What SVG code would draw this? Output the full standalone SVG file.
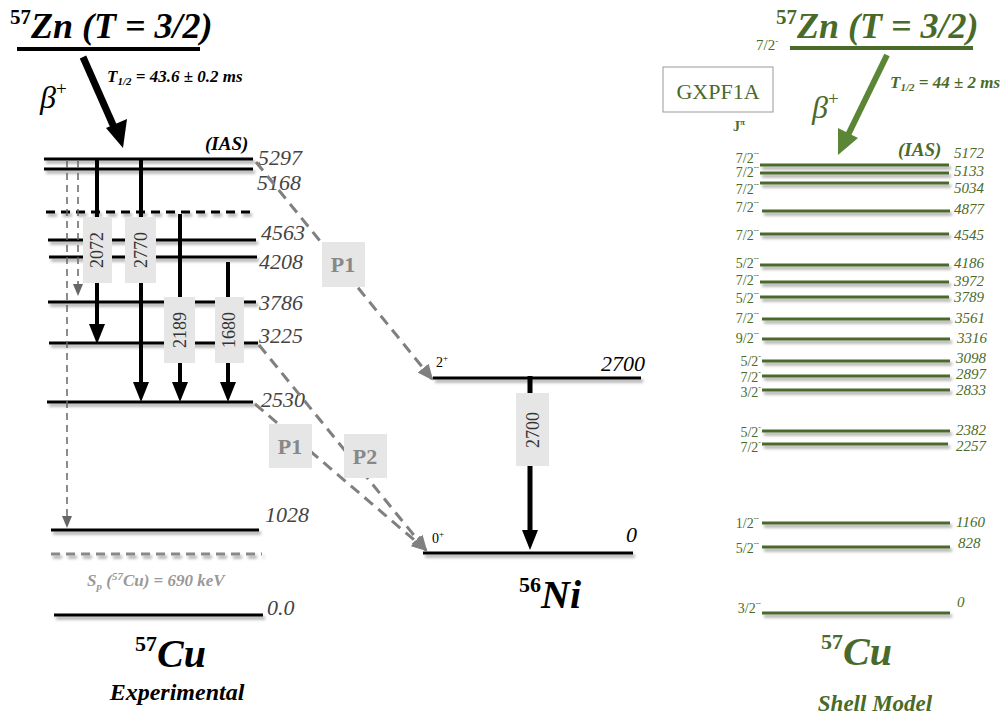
<svg xmlns="http://www.w3.org/2000/svg" width="1007" height="719" viewBox="0 0 1007 719">
<defs>
<filter id="sh" x="-5%" y="-200%" width="110%" height="500%">
<feDropShadow dx="2" dy="3" stdDeviation="1.5" flood-color="#000" flood-opacity="0.35"/>
</filter>
<marker id="ah" markerUnits="userSpaceOnUse" markerWidth="16" markerHeight="20" refX="8" refY="0" viewBox="0 0 16 20">
<path d="M0,0 L16,0 L8,20 z" fill="#000"/>
</marker>
<marker id="ahg" markerUnits="userSpaceOnUse" markerWidth="10" markerHeight="12" refX="5" refY="0" viewBox="0 0 10 12">
<path d="M0,0 L10,0 L5,12 z" fill="#666"/>
</marker>
<marker id="ahp" markerUnits="userSpaceOnUse" markerWidth="16" markerHeight="14" refX="14" refY="7" orient="auto" viewBox="0 0 16 14">
<path d="M0,0 L16,7 L0,14 z" fill="#808080"/>
</marker>
</defs>
<style>
text{font-family:"Liberation Serif",serif}
.lv{stroke:#000;stroke-width:3;fill:none}
.gl{stroke:#4a6a2a;stroke-width:3;fill:none}
.en{font-style:italic;font-size:22px;fill:#444}
.gm{stroke:#000;stroke-width:4;fill:none}
.box{fill:#e6e6e6}
.bl{font-size:18px;fill:#333;text-anchor:middle}
.pb{font-size:22px;font-weight:bold;fill:#888;text-anchor:middle}
.pd{stroke:#808080;stroke-width:3;stroke-dasharray:11 7;fill:none}
.sp{font-size:14px;fill:#4a6a2a;text-anchor:end}
.se{font-size:15px;font-style:italic;fill:#4a6a2a}
.g{fill:#4a6a2a}
</style>

<g id="left-parent">
<text x="10" y="38" font-size="36" font-weight="bold" font-style="italic"><tspan font-size="21" dy="-14" font-style="normal">57</tspan><tspan dy="14">Zn</tspan> (T = 3/2)</text>
<line x1="17" y1="49" x2="200" y2="49" stroke="#000" stroke-width="4"/>
<text x="40" y="108" font-size="32" font-style="italic">β<tspan font-size="19" dy="-13" font-style="normal">+</tspan></text>
<text x="107" y="82" font-size="17" font-weight="bold" font-style="italic">T<tspan font-size="11" dy="3">1/2</tspan><tspan dy="-3"> =  43.6 ± 0.2 ms</tspan></text>
<line x1="83" y1="57" x2="117" y2="134" stroke="#000" stroke-width="7"/>
<path d="M123,148 L106,128 L127,119 z" fill="#000"/>
</g>

<g id="left-levels" filter="url(#sh)">
<line class="lv" x1="44" y1="159" x2="253" y2="159"/>
<line class="lv" x1="44" y1="169" x2="253" y2="169"/>
<line class="lv" x1="46" y1="212" x2="256" y2="212" stroke-dasharray="9 6"/>
<line class="lv" x1="48" y1="240" x2="256" y2="240"/>
<line class="lv" x1="49" y1="257" x2="257" y2="257"/>
<line class="lv" x1="48" y1="302" x2="256" y2="302"/>
<line class="lv" x1="49" y1="343" x2="258" y2="343"/>
<line class="lv" x1="47" y1="402" x2="253" y2="402"/>
<line class="lv" x1="51" y1="530" x2="259" y2="530"/>
<line x1="51" y1="554" x2="262" y2="554" stroke="#888" stroke-width="3" stroke-dasharray="9 6"/>
<line class="lv" x1="54" y1="615" x2="263" y2="615"/>
</g>

<g id="left-labels">
<text x="205" y="150" font-size="19" font-weight="bold" font-style="italic">(IAS)</text>
<text class="en" x="258" y="165">5297</text>
<text class="en" x="257" y="190">5168</text>
<text class="en" x="261" y="240">4563</text>
<text class="en" x="259" y="269">4208</text>
<text class="en" x="259" y="310">3786</text>
<text class="en" x="259" y="343">3225</text>
<text class="en" x="261" y="407">2530</text>
<text class="en" x="265" y="522">1028</text>
<text class="en" x="267" y="615">0.0</text>
<text x="87" y="586" font-size="17" font-style="italic" font-weight="bold" fill="#999">S<tspan font-size="11" dy="4">p</tspan><tspan dy="-4"> (</tspan><tspan font-size="11" dy="-6">57</tspan><tspan dy="6">Cu) = 690 keV</tspan></text>
<text x="135" y="667" font-size="40" font-weight="bold" font-style="italic"><tspan font-size="22" dy="-16" font-style="normal">57</tspan><tspan dy="16">Cu</tspan></text>
<text x="177" y="700" font-size="24" font-weight="bold" font-style="italic" text-anchor="middle">Experimental</text>
</g>

<g id="connectors">
<line x1="67" y1="161" x2="67" y2="516" stroke="#666" stroke-width="1.5" stroke-dasharray="7 5" marker-end="url(#ahg)"/>
<line x1="78" y1="161" x2="78" y2="284" stroke="#666" stroke-width="1.5" stroke-dasharray="7 5" marker-end="url(#ahg)"/>
<line class="gm" x1="97" y1="159" x2="97" y2="324" marker-end="url(#ah)"/>
<line class="gm" x1="141" y1="159" x2="141" y2="382" marker-end="url(#ah)"/>
<line class="gm" x1="180" y1="214" x2="180" y2="382" marker-end="url(#ah)"/>
<line class="gm" x1="228" y1="262" x2="228" y2="382" marker-end="url(#ah)"/>
<line x1="530" y1="376" x2="530" y2="530" stroke="#000" stroke-width="5" marker-end="url(#ah)"/>
<line class="pd" x1="256" y1="162" x2="432" y2="379" marker-end="url(#ahp)"/>
<line class="pd" x1="259" y1="345" x2="426" y2="550" marker-end="url(#ahp)"/>
<line class="pd" x1="255" y1="404" x2="426" y2="550" marker-end="url(#ahp)"/>
</g>

<g id="gamma-labels">
<rect class="box" x="83" y="217" width="29" height="66"/>
<text class="bl" transform="translate(103,250) rotate(-90)">2072</text>
<rect class="box" x="125" y="217" width="31" height="66"/>
<text class="bl" transform="translate(147,250) rotate(-90)">2770</text>
<rect class="box" x="164" y="297" width="31" height="66"/>
<text class="bl" transform="translate(186,330) rotate(-90)">2189</text>
<rect class="box" x="215" y="297" width="29" height="66"/>
<text class="bl" transform="translate(235,330) rotate(-90)">1680</text>
<rect class="box" x="516" y="393" width="33" height="73"/>
<text class="bl" transform="translate(539,430) rotate(-90)">2700</text>
<rect class="box" x="322" y="242" width="43" height="45"/>
<text class="pb" x="343" y="272">P1</text>
<rect class="box" x="344" y="434" width="43" height="44"/>
<text class="pb" x="365" y="464">P2</text>
<rect class="box" x="269" y="424" width="43" height="44"/>
<text class="pb" x="290" y="454">P1</text>
</g>

<g id="ni56">
<g filter="url(#sh)">
<line class="lv" x1="433" y1="378" x2="641" y2="378"/>
<line class="lv" x1="423" y1="553" x2="633" y2="553"/>
</g>
<text x="436" y="367" font-size="14">2<tspan font-size="9" dy="-6">+</tspan></text>
<text x="432" y="543" font-size="14">0<tspan font-size="9" dy="-6">+</tspan></text>
<text x="645" y="371" font-size="22" font-style="italic" text-anchor="end">2700</text>
<text x="637" y="542" font-size="22" font-style="italic" text-anchor="end">0</text>
<text x="519" y="608" font-size="40" font-weight="bold" font-style="italic"><tspan font-size="22" dy="-16" font-style="normal">56</tspan><tspan dy="16">Ni</tspan></text>
</g>

<g id="sm-parent" class="g">
<text x="776" y="38" font-size="36" font-weight="bold" font-style="italic"><tspan font-size="21" dy="-14" font-style="normal">57</tspan><tspan dy="14">Zn</tspan> (T = 3/2)</text>
<line x1="790" y1="48" x2="973" y2="48" stroke="#4a6a2a" stroke-width="4"/>
<text x="756" y="50" font-size="15">7/2<tspan font-size="9" dy="-6">-</tspan></text>
<rect x="663" y="67" width="110" height="45" fill="#fff" stroke="#999" stroke-width="1"/>
<text x="718" y="99" font-size="22" text-anchor="middle">GXPF1A</text>
<text x="733" y="131" font-size="14" font-weight="bold">J<tspan font-size="9" dy="-6">π</tspan></text>
<text x="812" y="118" font-size="32" font-style="italic">β<tspan font-size="19" dy="-13" font-style="normal">+</tspan></text>
<text x="890" y="88" font-size="17" font-weight="bold" font-style="italic">T<tspan font-size="11" dy="3">1/2</tspan><tspan dy="-3"> = 44 ± 2 ms</tspan></text>
<line x1="887" y1="55" x2="848" y2="135" stroke="#5a8636" stroke-width="6"/>
<path d="M838,155 L838,128 L858,138 z" fill="#5a8636"/>
<text x="898" y="156" font-size="19" font-weight="bold" font-style="italic">(IAS)</text>
</g>

<g id="sm-levels" filter="url(#sh)">
<line class="gl" x1="760" y1="165" x2="949" y2="165"/>
<line class="gl" x1="760" y1="173" x2="949" y2="173"/>
<line class="gl" x1="760" y1="183" x2="949" y2="183"/>
<line class="gl" x1="762" y1="211" x2="950" y2="211"/>
<line class="gl" x1="760" y1="234" x2="949" y2="234"/>
<line class="gl" x1="760" y1="265" x2="949" y2="265"/>
<line class="gl" x1="760" y1="282" x2="949" y2="282"/>
<line class="gl" x1="760" y1="297" x2="949" y2="297"/>
<line class="gl" x1="762" y1="319" x2="950" y2="319"/>
<line class="gl" x1="762" y1="339" x2="950" y2="339"/>
<line class="gl" x1="762" y1="361" x2="950" y2="361"/>
<line class="gl" x1="762" y1="376" x2="950" y2="376"/>
<line class="gl" x1="762" y1="390" x2="950" y2="390"/>
<line class="gl" x1="762" y1="431" x2="950" y2="431"/>
<line class="gl" x1="762" y1="444" x2="948" y2="444"/>
<line class="gl" x1="762" y1="523" x2="950" y2="523"/>
<line class="gl" x1="762" y1="547" x2="950" y2="547"/>
<line class="gl" x1="762" y1="613" x2="950" y2="613"/>
</g>

<g id="sm-labels">
<text class="sp" x="759" y="163">7/2<tspan font-size="8" dy="-7">--</tspan></text>
<text class="sp" x="759" y="177">7/2<tspan font-size="8" dy="-7">--</tspan></text>
<text class="sp" x="759" y="194">7/2<tspan font-size="8" dy="-7">--</tspan></text>
<text class="sp" x="759" y="212">7/2<tspan font-size="8" dy="-7">--</tspan></text>
<text class="sp" x="759" y="240">7/2<tspan font-size="8" dy="-7">--</tspan></text>
<text class="sp" x="759" y="268">5/2<tspan font-size="8" dy="-7">--</tspan></text>
<text class="sp" x="759" y="285">7/2<tspan font-size="8" dy="-7">--</tspan></text>
<text class="sp" x="759" y="303">5/2<tspan font-size="8" dy="-7">--</tspan></text>
<text class="sp" x="759" y="323">7/2<tspan font-size="8" dy="-7">--</tspan></text>
<text class="sp" x="759" y="343">9/2<tspan font-size="8" dy="-7">--</tspan></text>
<text class="sp" x="761" y="366">5/2<tspan font-size="8" dy="-7">-</tspan></text>
<text class="sp" x="761" y="382">7/2<tspan font-size="8" dy="-7">-</tspan></text>
<text class="sp" x="761" y="397">3/2<tspan font-size="8" dy="-7">-</tspan></text>
<text class="sp" x="761" y="437">5/2<tspan font-size="8" dy="-7">-</tspan></text>
<text class="sp" x="761" y="452">7/2<tspan font-size="8" dy="-7">-</tspan></text>
<text class="sp" x="759" y="528">1/2<tspan font-size="8" dy="-7">--</tspan></text>
<text class="sp" x="759" y="553">5/2<tspan font-size="8" dy="-7">--</tspan></text>
<text class="sp" x="761" y="613">3/2<tspan font-size="8" dy="-7">--</tspan></text>
<text class="se" x="954" y="158">5172</text>
<text class="se" x="954" y="176">5133</text>
<text class="se" x="954" y="193">5034</text>
<text class="se" x="954" y="214">4877</text>
<text class="se" x="954" y="240">4545</text>
<text class="se" x="954" y="268">4186</text>
<text class="se" x="954" y="286">3972</text>
<text class="se" x="954" y="302">3789</text>
<text class="se" x="955" y="323">3561</text>
<text class="se" x="957" y="343">3316</text>
<text class="se" x="956" y="363">3098</text>
<text class="se" x="956" y="379">2897</text>
<text class="se" x="956" y="395">2833</text>
<text class="se" x="956" y="435">2382</text>
<text class="se" x="956" y="451">2257</text>
<text class="se" x="956" y="527">1160</text>
<text class="se" x="958" y="548">828</text>
<text class="se" x="957" y="607" font-size="13">0</text>
<text x="821" y="665" font-size="40" font-weight="bold" font-style="italic" class="g"><tspan font-size="22" dy="-16" font-style="normal">57</tspan><tspan dy="16">Cu</tspan></text>
<text x="875" y="711" font-size="23" font-weight="bold" font-style="italic" text-anchor="middle" class="g">Shell Model</text>
</g>
</svg>
